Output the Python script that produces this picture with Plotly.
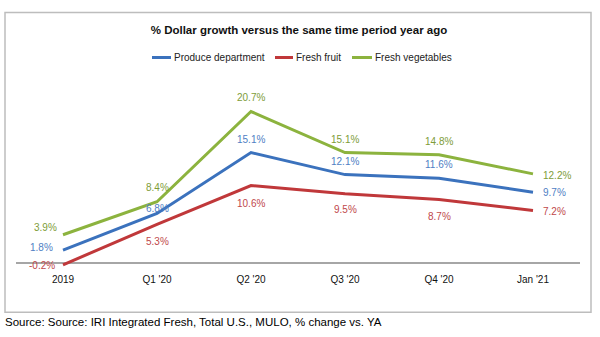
import plotly.graph_objects as go

categories = ["2019", "Q1 '20", "Q2 '20", "Q3 '20", "Q4 '20", "Jan '21"]
produce = [1.8, 6.8, 15.1, 12.1, 11.6, 9.7]
fruit = [-0.2, 5.3, 10.6, 9.5, 8.7, 7.2]
vegetables = [3.9, 8.4, 20.7, 15.1, 14.8, 12.2]
series_names = ["Produce department", "Fresh fruit", "Fresh vegetables"]

W, H = 600, 337
Y_MIN, Y_MAX = -0.5, 25
ML, MR, MT, MB = 16, 20, 79.5, 70.3
FONT = "Liberation Sans, Arial, sans-serif"

line_colors = ["#3B72BD", "#C0383A", "#8CB33E"]
text_colors = ["#4F80C4", "#C0484B", "#7E9C38"]

# label placement per point: (xanchor, xshift px, yshift px)
placements = [
    [("right", -8, 3), ("center", 0, 5), ("center", 0, 13), ("center", 0, 13), ("center", 0, 14), ("left", 8, 0)],
    [("right", -6, -0.5), ("center", 0, -17), ("center", 0, -18), ("center", 0, -16), ("center", 0, -17), ("left", 8, -1)],
    [("right", -4, 7), ("center", 0, 14), ("center", 0, 14), ("center", 0, 13), ("center", 0, 13), ("left", 8, -1.5)],
]

pw = W - ML - MR
ph = H - MT - MB
def px_x(p):
    return (p - ML) / pw
def px_y(p):
    return (H - MB - p) / ph

fig = go.Figure()
all_vals = [produce, fruit, vegetables]
for i, (name, vals) in enumerate(zip(series_names, all_vals)):
    fig.add_trace(go.Scatter(
        x=categories, y=vals, name=name, mode="lines",
        line=dict(color=line_colors[i], width=3),
        cliponaxis=False, hoverinfo="skip", showlegend=False,
    ))
    for j, v in enumerate(vals):
        xa, xs, ys = placements[i][j]
        # category index used as position (a string like "2019" would be read as a number)
        fig.add_annotation(x=j, y=v, xref="x", yref="y",
                           text=f"{v:.1f}%", showarrow=False,
                           xanchor=xa, yanchor="middle", xshift=xs, yshift=ys,
                           font=dict(family=FONT, size=10, color=text_colors[i]))

# legend drawn manually to match the compact reference legend
legend_line_x = [(152, 171), (275, 293), (352, 372)]
legend_y = 57
for i, name in enumerate(series_names):
    x0, x1 = legend_line_x[i]
    fig.add_shape(type="line", xref="paper", yref="paper",
                  x0=px_x(x0), x1=px_x(x1), y0=px_y(legend_y), y1=px_y(legend_y),
                  line=dict(color=line_colors[i], width=3))
    fig.add_annotation(text=name, xref="paper", yref="paper",
                       x=px_x(x1 + 1), y=px_y(legend_y), xanchor="left", yanchor="middle",
                       showarrow=False, font=dict(family=FONT, size=10, color="#222222"))

fig.add_shape(type="rect", xref="paper", yref="paper",
              x0=px_x(5), x1=px_x(591), y0=px_y(12), y1=px_y(312),
              line=dict(color="#BDBDBD", width=1.5), layer="below")

fig.add_annotation(text="Source: Source: IRI Integrated Fresh, Total U.S., MULO, % change vs. YA",
                   xref="paper", yref="paper", x=px_x(3), y=px_y(322),
                   xanchor="left", yanchor="middle", showarrow=False,
                   font=dict(family=FONT, size=11.5, color="#000000"))

fig.update_layout(
    width=W, height=H,
    margin=dict(l=ML, r=MR, t=MT, b=MB),
    paper_bgcolor="white", plot_bgcolor="white",
    title=dict(text="<b>% Dollar growth versus the same time period year ago</b>",
               x=299 / W, xanchor="center", xref="container",
               y=1 - 30 / H, yanchor="middle", yref="container",
               font=dict(family=FONT, size=11.5, color="#111111")),
    showlegend=False,
    xaxis=dict(type="category", range=[-0.5, 5.5], showgrid=False,
               showline=False, zeroline=False,
               ticks="outside", ticklen=3, tickcolor="rgba(0,0,0,0)",
               tickfont=dict(family=FONT, size=10, color="#111111"),
               fixedrange=True),
    yaxis=dict(range=[Y_MIN, Y_MAX], showgrid=False, showticklabels=False,
               ticks="", showline=False,
               zeroline=True, zerolinecolor="#A6A6A6", zerolinewidth=1.5,
               fixedrange=True),
)

fig.write_html("out.html")
